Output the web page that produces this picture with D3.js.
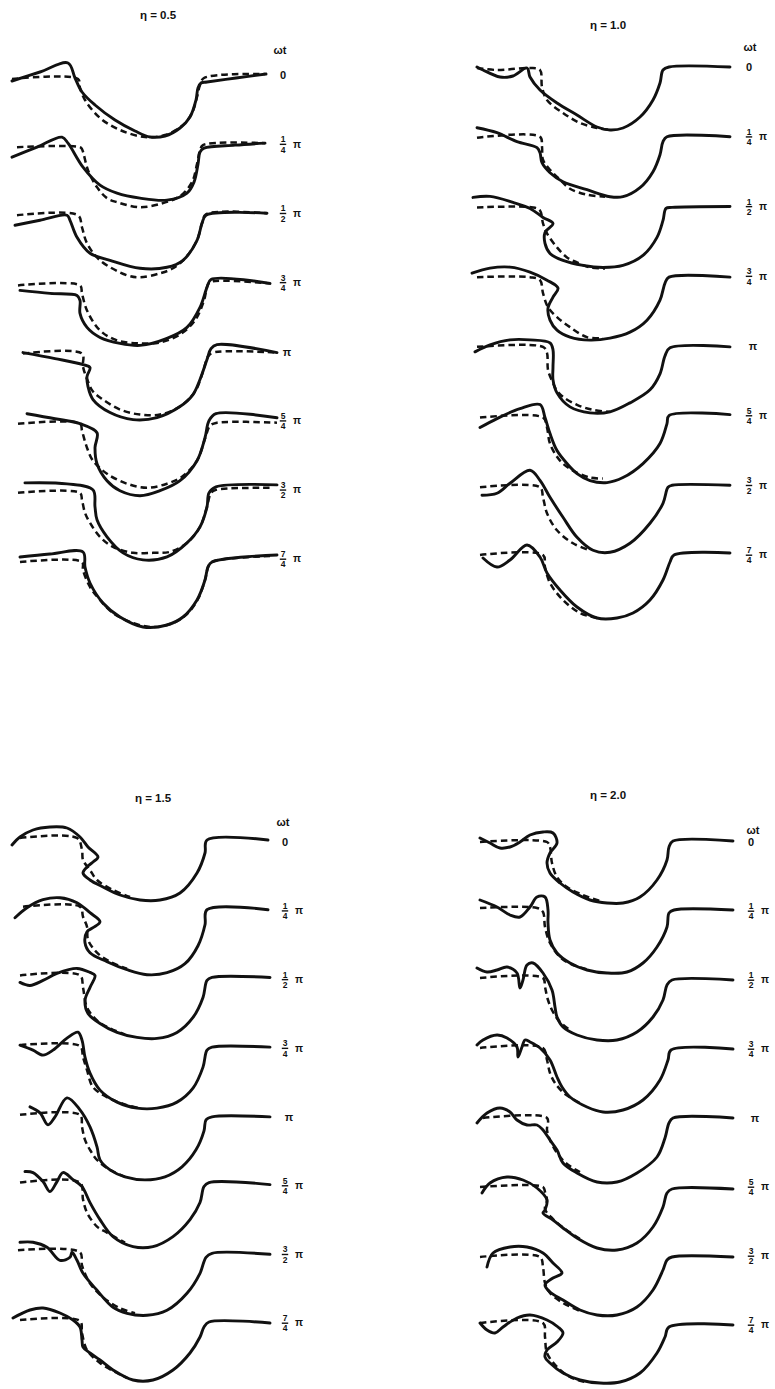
<!DOCTYPE html>
<html>
<head>
<meta charset="utf-8">
<script src="https://cdn.jsdelivr.net/npm/d3@7"></script>
<style>
  body { margin: 0; background: #fff; }
  svg { display: block; }
</style>
</head>
<body>
<svg id="fig" width="775" height="1389"></svg>
<script>
// Free-surface profiles over the trough for four values of eta, eight phases each.
// Each profile point: [distance along the section, depth below the still-water level].
const etaValues = ["0.5", "1.0", "1.5", "2.0"];
const phaseLabels = ["0", "1/4 π", "1/2 π", "3/4 π", "π", "5/4 π", "3/2 π", "7/4 π"];

// eta = 0.5
const eta05Solid = [
  [[12,6],[40,-3],[68,-12],[75,3],[82,17],[95,30],[115,45],[135,56],[150,62],[165,61],[180,53],[190,42],[196,25],[198,13],[201,8],[207,7],[236,3],[266,-1]],
  [[12,13],[37,3],[62,-7],[68,-1],[83,23],[100,41],[117,49],[140,54],[167,56],[187,49],[194,38],[198,20],[200,8],[204,4],[235,1],[265,-1]],
  [[15,12],[40,7],[67,2],[70,7],[77,24],[90,40],[110,47],[140,55],[167,54],[183,47],[197,27],[202,10],[206,2],[267,0]],
  [[20,8],[50,11],[77,13],[80,18],[80,31],[87,45],[100,55],[120,61],[140,63],[167,56],[187,45],[200,25],[207,5],[211,-3],[270,1]],
  [[23,1],[55,7],[83,13],[90,16],[87,25],[88,35],[93,48],[110,61],[133,68],[157,66],[180,55],[193,43],[200,28],[207,8],[211,-3],[217,-7],[277,1]],
  [[27,-7],[55,-2],[80,3],[97,12],[95,27],[97,43],[107,60],[120,70],[140,75],[160,70],[180,60],[197,40],[205,17],[209,0],[216,-7],[277,-3]],
  [[25,-7],[67,-6],[93,0],[95,17],[97,30],[107,47],[123,63],[143,70],[167,67],[187,53],[200,37],[207,17],[209,3],[216,-3],[277,-5]],
  [[20,-2],[50,-5],[83,-7],[85,8],[90,24],[103,44],[120,58],[143,68],[167,66],[183,58],[197,41],[205,21],[208,8],[212,3],[277,-4]]
];
const eta05Dashed = [
  [[12,4],[78,4],[80,13],[85,25],[100,43],[120,55],[145,62],[165,60],[182,51],[192,38],[197,22],[200,10],[204,3],[265,-1]],
  [[17,3],[80,3],[82,5],[88,26],[97,43],[107,54],[117,58],[140,63],[163,59],[180,52],[192,38],[197,20],[200,6],[203,1],[265,-1]],
  [[17,2],[78,2],[82,14],[87,30],[100,47],[127,62],[140,64],[160,60],[173,55],[185,45],[197,27],[202,10],[206,1],[267,0]],
  [[18,3],[80,3],[82,11],[87,28],[100,48],[117,58],[140,61],[160,60],[180,52],[195,38],[204,18],[208,2],[212,-1],[270,1]],
  [[23,2],[82,2],[83,15],[88,30],[93,40],[103,48],[120,58],[140,63],[160,63],[180,55],[195,40],[203,20],[208,5],[213,1],[277,1]],
  [[18,3],[80,3],[82,10],[87,27],[93,40],[107,53],[127,63],[147,67],[167,63],[182,56],[197,40],[205,18],[210,5],[217,2],[277,2]],
  [[18,3],[80,3],[82,10],[85,23],[90,33],[100,47],[113,57],[133,63],[153,63],[170,62],[187,53],[200,37],[207,17],[211,3],[216,0],[270,-2]],
  [[20,3],[82,3],[83,11],[90,28],[100,41],[113,54],[133,64],[153,68],[173,64],[187,55],[198,40],[205,21],[209,6],[214,2],[270,-3]]
];

// eta = 1.0
const eta10Solid = [
  [[12,0],[18,3],[35,10],[48,9],[62,1],[65,10],[75,23],[92,36],[112,48],[132,60],[145,63],[158,61],[175,50],[188,33],[195,16],[198,3],[204,0],[265,0]],
  [[12,-9],[32,-4],[52,5],[72,11],[75,16],[77,26],[85,36],[98,45],[122,53],[145,60],[158,60],[175,51],[188,35],[195,18],[198,5],[202,0],[265,0]],
  [[8,-9],[25,-10],[48,-4],[65,2],[78,11],[88,17],[80,26],[80,37],[85,47],[98,54],[118,59],[138,61],[158,59],[178,49],[192,31],[198,14],[201,2],[207,1],[265,0]],
  [[7,-3],[25,-8],[45,-9],[65,-4],[82,4],[93,12],[88,21],[83,32],[85,44],[92,54],[105,61],[125,64],[145,62],[165,56],[182,44],[195,24],[200,7],[204,1],[265,1]],
  [[10,6],[25,-1],[45,-6],[65,-6],[85,-3],[88,4],[88,21],[88,34],[92,47],[105,61],[125,67],[145,66],[165,57],[185,44],[195,28],[200,10],[205,2],[265,1]],
  [[15,12],[32,3],[55,-7],[75,-11],[80,2],[85,18],[92,35],[102,48],[112,58],[125,65],[142,67],[158,62],[178,48],[195,28],[202,8],[204,0],[265,-1]],
  [[17,10],[32,8],[45,-2],[65,-15],[75,-5],[85,12],[98,32],[112,52],[128,65],[145,67],[165,58],[185,38],[198,18],[203,2],[207,0],[265,0]],
  [[18,3],[32,12],[45,5],[62,-10],[75,2],[82,18],[95,35],[112,52],[132,63],[152,63],[168,58],[185,45],[198,25],[205,7],[209,0],[265,-2]]
];
const eta10Dashed = [
  [[12,1],[32,3],[65,1],[75,3],[77,20],[82,33],[98,46],[115,56],[132,61],[145,63]],
  [[12,1],[75,0],[77,10],[78,23],[85,33],[95,43],[105,52],[122,58],[140,60]],
  [[12,1],[68,1],[75,4],[78,17],[82,27],[92,41],[102,51],[112,56],[125,61],[140,62]],
  [[12,1],[65,1],[75,4],[78,17],[83,31],[92,41],[105,51],[122,61],[138,62]],
  [[12,1],[78,1],[82,7],[83,24],[88,37],[92,45],[98,51],[112,59],[128,64],[145,66]],
  [[15,2],[78,2],[82,12],[85,28],[95,45],[108,55],[125,62],[138,63]],
  [[15,2],[75,2],[78,12],[82,28],[92,45],[108,58],[125,65]],
  [[15,0],[78,0],[80,12],[85,28],[98,45],[115,58],[132,63]]
];

// eta = 1.5
const eta15Solid = [
  [[12,3],[20,-5],[33,-12],[50,-15],[67,-14],[80,-5],[88,5],[98,15],[93,20],[87,25],[83,31],[90,38],[103,45],[120,53],[140,58],[160,58],[180,51],[197,31],[205,11],[207,-2],[268,-2]],
  [[15,7],[27,-3],[43,-11],[60,-13],[77,-8],[90,2],[100,11],[93,17],[87,21],[85,32],[90,42],[107,51],[127,59],[147,64],[167,62],[185,53],[198,35],[205,14],[207,-1],[268,-1]],
  [[20,3],[30,6],[43,1],[57,-6],[77,-11],[90,-7],[95,-4],[90,8],[85,21],[88,34],[100,44],[117,53],[137,58],[157,59],[177,53],[193,38],[203,18],[207,1],[212,-2],[270,-2]],
  [[20,-3],[33,2],[43,7],[53,2],[67,-10],[78,-16],[82,-8],[85,9],[90,25],[100,42],[117,54],[137,60],[157,60],[177,54],[193,40],[203,19],[207,2],[212,-1],[270,-1]],
  [[30,-10],[40,-4],[48,8],[55,0],[67,-19],[80,-7],[90,10],[97,30],[100,43],[110,53],[125,60],[145,63],[165,60],[182,50],[196,33],[204,14],[206,3],[212,0],[270,0]],
  [[25,-14],[33,-13],[43,-4],[50,6],[57,-4],[63,-13],[73,-6],[82,1],[90,17],[100,34],[113,51],[133,61],[153,61],[173,51],[190,34],[200,17],[204,1],[209,-3],[270,-1]],
  [[20,-12],[33,-12],[47,-7],[60,6],[70,3],[72,-2],[77,6],[83,19],[97,36],[113,53],[127,59],[147,61],[167,56],[187,39],[200,19],[206,3],[212,-1],[270,0]],
  [[13,-5],[30,-13],[43,-15],[60,-10],[73,-3],[80,4],[82,17],[83,24],[90,30],[100,37],[113,47],[133,57],[153,57],[173,47],[190,30],[200,14],[204,4],[209,-1],[270,0]]
];
const eta15Dashed = [
  [[20,-4],[77,-4],[82,8],[83,18],[90,28],[97,38],[113,48],[130,55]],
  [[23,-4],[80,-4],[83,6],[87,16],[88,29],[97,42],[110,51],[127,58]],
  [[20,-4],[80,-4],[83,8],[87,28],[97,41],[110,49],[125,55]],
  [[20,-3],[80,-2],[83,9],[87,22],[93,39],[107,49],[127,57],[140,60]],
  [[20,-2],[80,-2],[82,10],[85,23],[90,33],[97,43],[110,53],[125,60]],
  [[20,-3],[80,-3],[83,14],[87,27],[97,41],[107,47],[125,57]],
  [[18,-4],[80,-2],[82,11],[90,29],[103,43],[120,54],[135,59]],
  [[20,-3],[80,-2],[82,10],[87,27],[100,40],[117,50],[127,55]]
];

// eta = 2.0
const eta20Solid = [
  [[15,-4],[25,1],[35,6],[45,5],[55,0],[65,-7],[78,-10],[88,-9],[92,1],[85,11],[82,21],[85,31],[95,41],[108,50],[125,58],[142,61],[158,61],[175,55],[192,38],[202,18],[204,5],[208,-1],[268,-1]],
  [[15,-11],[32,-4],[45,4],[55,6],[65,-4],[72,-14],[80,-14],[83,-1],[83,12],[85,29],[92,42],[105,52],[122,59],[142,62],[162,61],[178,52],[192,36],[202,16],[204,2],[209,-1],[268,-1]],
  [[12,-12],[22,-8],[32,-10],[42,-13],[52,-7],[55,8],[58,0],[62,-15],[68,-17],[78,-7],[87,10],[90,27],[92,37],[98,47],[112,55],[132,60],[152,60],[172,52],[188,37],[198,20],[202,5],[207,0],[268,0]],
  [[12,-4],[18,-9],[32,-14],[42,-11],[52,-2],[53,8],[57,-2],[60,-9],[65,-7],[75,-1],[85,11],[92,28],[97,38],[105,48],[122,58],[138,63],[158,61],[178,51],[195,31],[203,11],[206,1],[268,0]],
  [[12,5],[22,-5],[35,-10],[45,-6],[52,2],[62,7],[72,7],[78,12],[85,22],[92,32],[98,45],[112,55],[132,64],[152,64],[172,55],[192,39],[200,20],[204,5],[208,0],[268,0]],
  [[17,6],[25,-4],[42,-10],[58,-7],[72,1],[82,13],[80,23],[78,26],[88,33],[98,41],[112,51],[132,61],[152,63],[172,56],[188,40],[198,20],[202,6],[207,2],[268,2]],
  [[22,11],[28,-3],[45,-9],[62,-9],[78,-3],[88,7],[97,17],[88,22],[80,29],[85,36],[98,44],[115,54],[132,59],[152,59],[172,51],[188,34],[198,14],[202,4],[207,1],[268,1]],
  [[15,-2],[22,5],[30,8],[38,2],[52,-7],[65,-10],[82,-5],[93,2],[98,8],[92,17],[82,25],[80,32],[85,38],[98,48],[115,55],[135,58],[155,57],[175,48],[192,28],[200,12],[204,2],[268,0]]
];
const eta20Dashed = [
  [[15,0],[82,0],[85,5],[87,21],[92,35],[102,45],[118,53],[135,59]],
  [[15,-3],[72,-3],[78,1],[80,16],[85,32],[95,46],[108,54],[125,59]],
  [[15,-2],[78,-2],[80,7],[83,20],[88,32],[95,42],[105,50]],
  [[15,-1],[78,-1],[82,11],[85,24],[90,34],[100,45],[115,54]],
  [[18,0],[82,0],[82,12],[85,22],[92,35],[102,46],[115,54]],
  [[15,0],[78,0],[80,5],[82,13],[80,22],[88,32],[100,42],[115,52]],
  [[15,1],[75,1],[78,11],[80,27],[85,37],[98,47],[115,55]],
  [[15,-2],[78,-2],[80,12],[82,28],[92,42],[105,52],[120,57]]
];

// ---- layout of the four panels ----
const panels = [
  { eta: etaValues[0], solid: eta05Solid, dashed: eta05Dashed, left: 0,   rows: [75, 559],   title: [158, 15],  head: [280, 50],  labelX: 283 },
  { eta: etaValues[1], solid: eta10Solid, dashed: eta10Dashed, left: 465, rows: [67, 555],   title: [608, 25],  head: [750, 47],  labelX: 749 },
  { eta: etaValues[2], solid: eta15Solid, dashed: eta15Dashed, left: 0,   rows: [842, 1323], title: [153, 798], head: [283, 822], labelX: 285 },
  { eta: etaValues[3], solid: eta20Solid, dashed: eta20Dashed, left: 465, rows: [842, 1325], title: [608, 795], head: [753, 830], labelX: 751 }
];

const svg = d3.select("#fig");
svg.append("rect").attr("width", 775).attr("height", 1389).attr("fill", "#fff");

const ink = "#111";
const font = "'Liberation Sans', 'DejaVu Sans', sans-serif";

panels.forEach(p => {
  const g = svg.append("g").attr("class", "panel");

  const x = d3.scaleLinear().domain([0, 300]).range([p.left, p.left + 300]);
  const rowBase = d3.scaleLinear().domain([0, phaseLabels.length - 1]).range(p.rows);

  phaseLabels.forEach((lab, i) => {
    const base = rowBase(i);
    const y = d3.scaleLinear().domain([0, 60]).range([base, base + 60]);
    const line = d3.line()
      .x(d => x(d[0]))
      .y(d => y(d[1]))
      .curve(d3.curveCatmullRom.alpha(0.5));

    g.append("path")
      .attr("d", line(p.dashed[i]))
      .attr("fill", "none")
      .attr("stroke", ink)
      .attr("stroke-width", 2.5)
      .attr("stroke-dasharray", "6.5,4");

    g.append("path")
      .attr("d", line(p.solid[i]))
      .attr("fill", "none")
      .attr("stroke", ink)
      .attr("stroke-width", 2.9)
      .attr("stroke-linejoin", "round")
      .attr("stroke-linecap", "round");

    // phase label: plain value or stacked fraction followed by π
    const lx = p.labelX;
    const lg = g.append("g").attr("font-family", font).attr("font-weight", "bold").attr("fill", ink);
    const m = lab.match(/^(\d)\/(\d) π$/);
    if (m) {
      lg.append("text").attr("x", lx).attr("y", base - 1.8).attr("text-anchor", "middle")
        .attr("font-size", 8.5).text(m[1]);
      lg.append("line").attr("x1", lx - 3.2).attr("x2", lx + 3.2)
        .attr("y1", base + 0.2).attr("y2", base + 0.2)
        .attr("stroke", ink).attr("stroke-width", 1.4);
      lg.append("text").attr("x", lx).attr("y", base + 8.4).attr("text-anchor", "middle")
        .attr("font-size", 8.5).text(m[2]);
      lg.append("text").attr("x", lx + 14).attr("y", base + 3.4).attr("text-anchor", "middle")
        .attr("font-size", 10.5).text("π");
    } else {
      lg.append("text").attr("x", lab === "π" ? lx + 4 : lx).attr("y", base + 4)
        .attr("text-anchor", "middle").attr("font-size", 11).text(lab);
    }
  });

  g.append("text")
    .attr("x", p.title[0]).attr("y", p.title[1] + 4)
    .attr("text-anchor", "middle")
    .attr("font-family", font).attr("font-weight", "bold").attr("font-size", 11.5)
    .attr("fill", ink)
    .text("η = " + p.eta);

  g.append("text")
    .attr("x", p.head[0]).attr("y", p.head[1] + 4)
    .attr("text-anchor", "middle")
    .attr("font-family", font).attr("font-weight", "bold").attr("font-size", 11)
    .attr("fill", ink)
    .text("ωt");
});
</script>
</body>
</html>
